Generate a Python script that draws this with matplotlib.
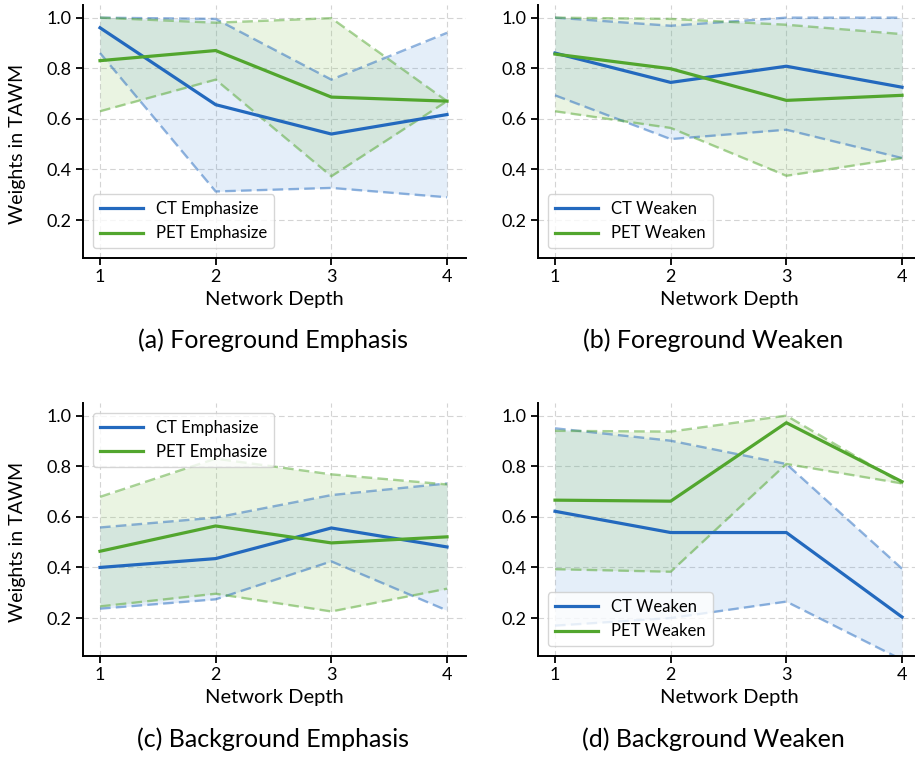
import numpy as np
import matplotlib.pyplot as plt

plt.rcParams['font.family'] = ['Lato', 'DejaVu Sans']

depth = [1, 2, 3, 4]

# (a) Foreground Emphasis
fe_ct = [0.96, 0.656, 0.54, 0.617]
fe_ct_hi = [1.0, 0.995, 0.755, 0.94]
fe_ct_lo = [0.86, 0.313, 0.327, 0.29]
fe_pet = [0.83, 0.87, 0.686, 0.67]
fe_pet_hi = [1.0, 0.98, 0.998, 0.67]
fe_pet_lo = [0.63, 0.755, 0.373, 0.67]

# (b) Foreground Weaken
fw_ct = [0.86, 0.744, 0.808, 0.725]
fw_ct_hi = [1.0, 0.968, 1.0, 1.0]
fw_ct_lo = [0.693, 0.52, 0.557, 0.445]
fw_pet = [0.856, 0.798, 0.673, 0.693]
fw_pet_hi = [1.0, 0.995, 0.972, 0.935]
fw_pet_lo = [0.63, 0.564, 0.375, 0.445]

# (c) Background Emphasis
be_ct = [0.40, 0.435, 0.556, 0.481]
be_ct_hi = [0.558, 0.597, 0.686, 0.732]
be_ct_lo = [0.237, 0.274, 0.424, 0.23]
be_pet = [0.464, 0.564, 0.497, 0.521]
be_pet_hi = [0.679, 0.83, 0.768, 0.728]
be_pet_lo = [0.246, 0.296, 0.226, 0.316]

# (d) Background Weaken
bw_ct = [0.622, 0.538, 0.538, 0.204]
bw_ct_hi = [0.95, 0.901, 0.809, 0.395]
bw_ct_lo = [0.17, 0.20, 0.265, 0.035]
bw_pet = [0.666, 0.662, 0.972, 0.739]
bw_pet_hi = [0.94, 0.937, 1.0, 0.732]
bw_pet_lo = [0.393, 0.383, 0.809, 0.732]

titles = ["(a) Foreground Emphasis", "(b) Foreground Weaken",
          "(c) Background Emphasis", "(d) Background Weaken"]
title_x = [273, 713, 273, 713]
title_y = [340, 340, 739, 739]

blue = '#2369be'
green = '#52a62e'


def zeichne_panel(ax, ct, ct_hi, ct_lo, pet, pet_hi, pet_lo, wort, loc):
    ax.fill_between(depth, ct_lo, ct_hi, color='#4a90da', alpha=0.15, lw=0)
    ax.fill_between(depth, pet_lo, pet_hi, color='#8cc663', alpha=0.18, lw=0)
    for werte, c in [(ct_hi, blue), (ct_lo, blue), (pet_hi, green), (pet_lo, green)]:
        ax.plot(depth, werte, '--', color=c, alpha=0.5, lw=1.7, dashes=(4.5, 2.2))
    ax.plot(depth, ct, color=blue, lw=2.3, label=f"CT {wort}")
    ax.plot(depth, pet, color=green, lw=2.3, label=f"PET {wort}")

    ax.set_xlim(0.853, 4.164)
    ax.set_ylim(0.05, 1.05)
    ax.set_xticks(depth)
    ax.set_yticks([0.2, 0.4, 0.6, 0.8, 1.0])
    ax.set_yticklabels(["0.2", "0.4", "0.6", "0.8", "1.0"])
    ax.grid(True, ls='--', color='#d4d4d4', lw=0.8, dashes=(5, 3))
    ax.set_axisbelow(True)
    for s in ['top', 'right']:
        ax.spines[s].set_visible(False)
    for s in ['left', 'bottom']:
        ax.spines[s].set_linewidth(1.4)
    ax.tick_params(labelsize=13, length=5, width=1.3, pad=3)
    ax.set_xlabel("Network Depth", fontsize=14.5)
    ax.xaxis.set_label_coords(0.5, -0.13)
    ax.legend(loc=loc, fontsize=12, handlelength=2.6, framealpha=0.8,
              edgecolor='#cccccc', fancybox=True, borderaxespad=0.6)


fig = plt.figure(figsize=(9.15, 7.61), dpi=100)
W, H = 915, 761
positions = [(83, 258), (538, 258), (83, 656), (538, 656)]
panels = [
    (fe_ct, fe_ct_hi, fe_ct_lo, fe_pet, fe_pet_hi, fe_pet_lo, "Emphasize", 'lower left'),
    (fw_ct, fw_ct_hi, fw_ct_lo, fw_pet, fw_pet_hi, fw_pet_lo, "Weaken", 'lower left'),
    (be_ct, be_ct_hi, be_ct_lo, be_pet, be_pet_hi, be_pet_lo, "Emphasize", 'upper left'),
    (bw_ct, bw_ct_hi, bw_ct_lo, bw_pet, bw_pet_hi, bw_pet_lo, "Weaken", 'lower left'),
]

for i, (p, daten) in enumerate(zip(positions, panels)):
    l, b = p
    ax = fig.add_axes([l / W, 1 - b / H, 383 / W, 253 / H])
    zeichne_panel(ax, *daten)
    if i % 2 == 0:
        ax.set_ylabel("Weights in TAWM", fontsize=14)
        ax.yaxis.set_label_coords(-0.15, 0.45)
    fig.text(title_x[i] / W, 1 - title_y[i] / H, titles[i], fontsize=18,
             ha='center', va='center')

fig.savefig("out.png", dpi=100)
